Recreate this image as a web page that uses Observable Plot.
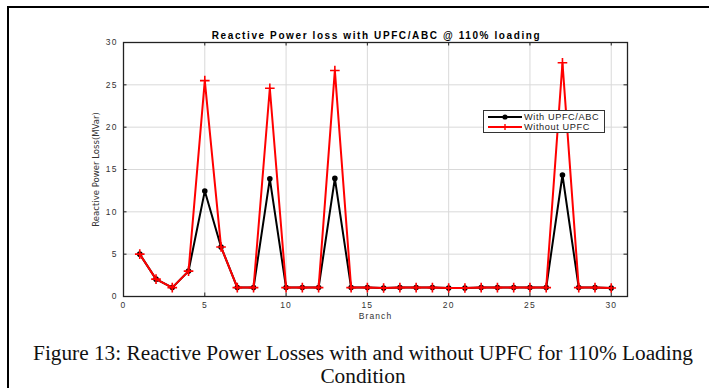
<!DOCTYPE html>
<html>
<head>
<meta charset="utf-8">
<script src="https://cdn.jsdelivr.net/npm/d3@7"></script>
<script src="https://cdn.jsdelivr.net/npm/@observablehq/plot@0.6"></script>
<style>
  html, body { margin: 0; padding: 0; background: #fff; }
  #wrap { position: relative; width: 709px; height: 388px; overflow: hidden; }
  #border { position: absolute; left: 7px; top: 6px; right: 0; bottom: 0; border-top: 2.5px solid #000; border-left: 2.5px solid #000; }
  #chart { position: absolute; left: 0; top: 0; }
  #chart svg text { letter-spacing: 1.1px; }
  #chart svg text.title { letter-spacing: 1.6px; }
  #chart svg text.ylab { letter-spacing: 0; }
  #legend { position: absolute; left: 483px; top: 110px; width: 120px; height: 21px; border: 1px solid #333; background: #fff;
            font-family: "Liberation Sans", Arial, sans-serif; font-size: 9.2px; color: #222; }
  #legend .row { position: absolute; left: 0; height: 10px; line-height: 10px; }
  #legend svg { position: absolute; left: 3px; top: 0; }
  #legend span { position: absolute; left: 40px; white-space: nowrap; letter-spacing: 0.6px; }
  #caption { position: absolute; left: 8px; width: 710px; top: 342px; text-align: center;
             font-family: "Liberation Serif", "Times New Roman", serif; font-size: 21.3px; line-height: 23px; color: #111; }
</style>
</head>
<body>
<div id="wrap">
  <div id="border"></div>
  <div id="chart"></div>
  <div id="legend">
    <div class="row" style="top:1px"><svg width="36" height="10"><line x1="1" y1="5" x2="35" y2="5" stroke="#000" stroke-width="1.8"/><circle cx="18" cy="5" r="2.6" fill="#000"/></svg><span>With UPFC/ABC</span></div>
    <div class="row" style="top:10.5px"><svg width="36" height="10"><line x1="1" y1="5" x2="35" y2="5" stroke="#f00" stroke-width="1.8"/><path d="M15,5H21M18,2V8" stroke="#f00" stroke-width="1.4"/></svg><span>Without UPFC</span></div>
  </div>
  <div id="caption">Figure 13: Reactive Power Losses with and without UPFC for 110% Loading<br>Condition</div>
</div>
<script>
const branches = d3.range(1, 31);
const withUPFC = [5, 2.05, 1.05, 3.0, 12.45, 5.85, 1.05, 1.05, 13.9, 1.05, 1.05, 1.05, 13.95, 1.05, 1.05, 1.0, 1.05, 1.05, 1.05, 1.0, 1.0, 1.05, 1.05, 1.05, 1.05, 1.05, 14.35, 1.05, 1.05, 1.0];
const withoutUPFC = [5, 2.05, 1.05, 3.0, 25.5, 5.85, 1.05, 1.05, 24.6, 1.05, 1.05, 1.05, 26.7, 1.05, 1.05, 1.0, 1.05, 1.05, 1.05, 1.0, 1.0, 1.05, 1.05, 1.05, 1.05, 1.05, 27.6, 1.05, 1.05, 1.0];
const xTicks = [0, 5, 10, 15, 20, 25, 30];
const yTicks = [0, 5, 10, 15, 20, 25, 30];
const titleText = "Reactive Power loss with UPFC/ABC @ 110% loading";
const xLabel = "Branch";
const yLabel = "Reactive Power Loss(MVar)";

const dataWith = branches.map((b, i) => ({branch: b, value: withUPFC[i]}));
const dataWithout = branches.map((b, i) => ({branch: b, value: withoutUPFC[i]}));

const W = 709, H = 330;
const mL = 123, mR = 82, mT = 42, mB = 34;
const plotH = H - mT - mB;
const plotW = W - mL - mR;
const tk = 3.5;

const font = "'Liberation Sans', Arial, sans-serif";

const plot = Plot.plot({
  width: W,
  height: H,
  marginLeft: mL, marginRight: mR, marginTop: mT, marginBottom: mB,
  style: {fontFamily: font, fontSize: "8px", color: "#333", background: "transparent"},
  x: {domain: [0, 31], ticks: xTicks},
  y: {domain: [0, 30], ticks: yTicks},
  marks: [
    Plot.gridX(xTicks, {stroke: "#d9d9d9", strokeOpacity: 1, strokeWidth: 1}),
    Plot.gridY(yTicks, {stroke: "#d9d9d9", strokeOpacity: 1, strokeWidth: 1}),
    Plot.axisX(xTicks, {anchor: "bottom", tickSize: 0, tickPadding: 5, label: null, fill: "#333", fontSize: 8.5}),
    Plot.axisY(yTicks, {anchor: "left", tickSize: 0, tickPadding: 6, label: null, fill: "#333", fontSize: 8.5}),
    // inward tick marks on all four sides
    Plot.tickX(xTicks, {x: d => d, stroke: "#222", insetTop: plotH - tk}),
    Plot.tickX(xTicks, {x: d => d, stroke: "#222", insetBottom: plotH - tk}),
    Plot.tickY(yTicks, {y: d => d, stroke: "#222", insetRight: plotW - tk}),
    Plot.tickY(yTicks, {y: d => d, stroke: "#222", insetLeft: plotW - tk}),
    Plot.frame({stroke: "#222", strokeWidth: 1.3}),
    Plot.line(dataWith, {x: "branch", y: "value", stroke: "#000", strokeWidth: 2}),
    Plot.dot(dataWith, {x: "branch", y: "value", fill: "#000", r: 2.8}),
    Plot.line(dataWithout, {x: "branch", y: "value", stroke: "#ff0000", strokeWidth: 2}),
    Plot.dot(dataWithout, {x: "branch", y: "value", symbol: "plus", stroke: "#ff0000", r: 3.2, strokeWidth: 1.6}),
    Plot.text([titleText], {frameAnchor: "top", dy: -7, dx: 1, lineAnchor: "middle", textAnchor: "middle", text: d => d, fontWeight: "bold", fontSize: 10, fill: "#000"}),
    Plot.text([xLabel], {frameAnchor: "bottom", dy: 20, lineAnchor: "middle", textAnchor: "middle", text: d => d, fontSize: 8.5, fill: "#333"}),
    Plot.text([yLabel], {frameAnchor: "left", dx: -28, rotate: -90, lineAnchor: "middle", textAnchor: "middle", text: d => d, fontSize: 9.5, fill: "#333", fontFamily: "'Liberation Sans Narrow', 'DejaVu Sans Condensed', sans-serif"})
  ]
});
document.getElementById("chart").appendChild(plot);
d3.select(plot).selectAll("text").each(function() {
  const t = this.textContent;
  if (t === titleText) this.classList.add("title");
  if (t === yLabel) this.classList.add("ylab");
});
</script>
</body>
</html>
